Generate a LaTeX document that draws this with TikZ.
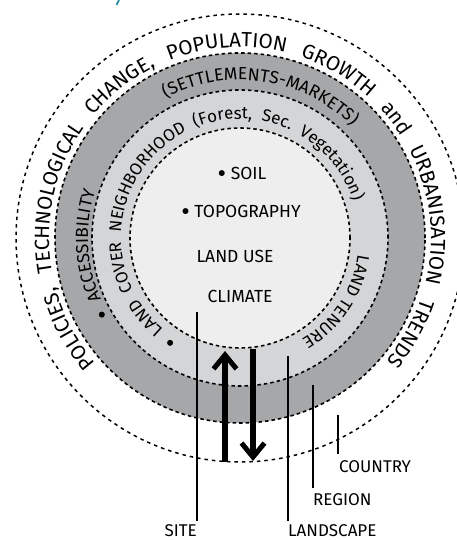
\documentclass[tikz,border=0pt]{standalone}
\usepackage{fontspec}
\setmainfont{Fira Sans}
\usetikzlibrary{decorations.text, arrows.meta}
\definecolor{ringdark}{HTML}{A6A7A9}
\definecolor{ringlight}{HTML}{D4D5D7}
\definecolor{ringinner}{HTML}{EEEEEE}
\definecolor{tealmark}{HTML}{1B8A99}
\newcommand\ofnt{\fontsize{20.5}{24}\selectfont}
\newcommand\dfnt{\fontsize{17.5}{20}\selectfont}
\newcommand\lfnt{\fontsize{17}{20}\selectfont}
\newcommand\bigbul{\raisebox{-3pt}{\scalebox{1.5}{•}}}
\begin{document}
\begin{tikzpicture}[x=1pt,y=1pt,
  ring/.style={draw=black, line width=1.6pt, dash pattern=on 3.5pt off 3pt},
  outerring/.style={draw=black, line width=1.5pt, dash pattern=on 3.5pt off 4pt},
  ctext/.style={font=\fontsize{17.5}{20}\selectfont, inner sep=0pt},
  lbl/.style={font=\fontsize{17}{20}\selectfont, inner sep=0pt},
  leader/.style={line width=1.8pt},
  bigarrow/.style={line width=5.5pt, -{Straight Barb[length=14pt,width=23pt,line width=5pt,sharp]}},
  dotmark/.style={fill=black}
]
\useasboundingbox (0,0) rectangle (457,540);
\coordinate (C) at (240,302);
% rings
\fill[ringdark] (C) circle[radius=185pt];
\fill[ringlight] (C) circle[radius=148pt];
\fill[ringinner] (C) circle[radius=110pt];
\path[ring] (C) circle[radius=110pt];
\path[ring] (C) circle[radius=148pt];
\path[ring] (C) circle[radius=185pt];
\path[outerring] (C) circle[radius=224pt];
% teal fragment
\draw[tealmark, line width=1.6pt] (116.5,535) -- (119,540);
% curved texts
\path[decorate, decoration={text along path, text align={fit to path stretching spaces},
  text={|\ofnt|POLICIES, TECHNOLOGICAL CHANGE, POPULATION GROWTH and URBANISATION TRENDS}}]
  ([shift={(221:191pt)}]C) arc[start angle=221, end angle=-40, radius=191pt];
\path[decorate, decoration={text along path, text align={fit to path},
  text={|\dfnt|(SETTLEMENTS-MARKETS)}}]
  ([shift={(118:158pt)}]C) arc[start angle=118, end angle=45, radius=158pt];
\path[decorate, decoration={text along path, text align={fit to path},
  text={|\dfnt|ACCESSIBILITY}}]
  ([shift={(204:152pt)}]C) arc[start angle=204, end angle=162.5, radius=152pt];
\path[decorate, decoration={text along path, text align={fit to path stretching spaces},
  text={|\lfnt|LAND COVER NEIGHBORHOOD (Forest, Sec. Vegetation)}}]
  ([shift={(230:119pt)}]C) arc[start angle=230, end angle=18, radius=119pt];
\path[decorate, decoration={text along path, text align={center},
  text={|\lfnt|LAND TENURE}}]
  ([shift={(0:119pt)}]C) arc[start angle=0, end angle=-67, radius=119pt];
\fill[dotmark] ([shift={(209:158pt)}]C) circle[radius=3pt];
\fill[dotmark] ([shift={(236.3:126pt)}]C) circle[radius=3pt];
% centre texts
\node[ctext] (soil) at (242,365) {\bigbul\ SOIL};
\node[ctext] (topo) at (241,327) {\bigbul\ TOPOGRAPHY};
\node[ctext] (landuse) at (235,284) {LAND USE};
\node[ctext] (climate) at (240,244) {CLIMATE};
% arrows
\coordinate (upA) at (225,78);
\coordinate (upB) at (225,189);
\coordinate (dnA) at (253,191);
\coordinate (dnB) at (253,79);
\draw[bigarrow] (upA) -- (upB);
\draw[bigarrow] (dnA) -- (dnB);
% leader lines and labels
\coordinate (siteT) at (197,228);
\coordinate (siteB) at (197,19);
\coordinate (landT) at (288,184);
\coordinate (landB) at (288,19);
\coordinate (regT) at (313,155);
\coordinate (regB) at (313,52);
\coordinate (ctyT) at (338,125);
\coordinate (ctyB) at (338,86);
\draw[leader] (siteT) -- (siteB);
\draw[leader] (landT) -- (landB);
\draw[leader] (regT) -- (regB);
\draw[leader] (ctyT) -- (ctyB);
\node[lbl, anchor=north east] (sitelbl) at ([yshift=-3pt]siteB) {SITE};
\node[lbl, anchor=north west] (landlbl) at ([yshift=-3pt]landB) {LANDSCAPE};
\node[lbl, anchor=north west] (reglbl) at ([yshift=-5pt]regB) {REGION};
\node[lbl, anchor=north west] (ctylbl) at ([xshift=1pt,yshift=-6pt]ctyB) {COUNTRY};
\end{tikzpicture}
\end{document}
